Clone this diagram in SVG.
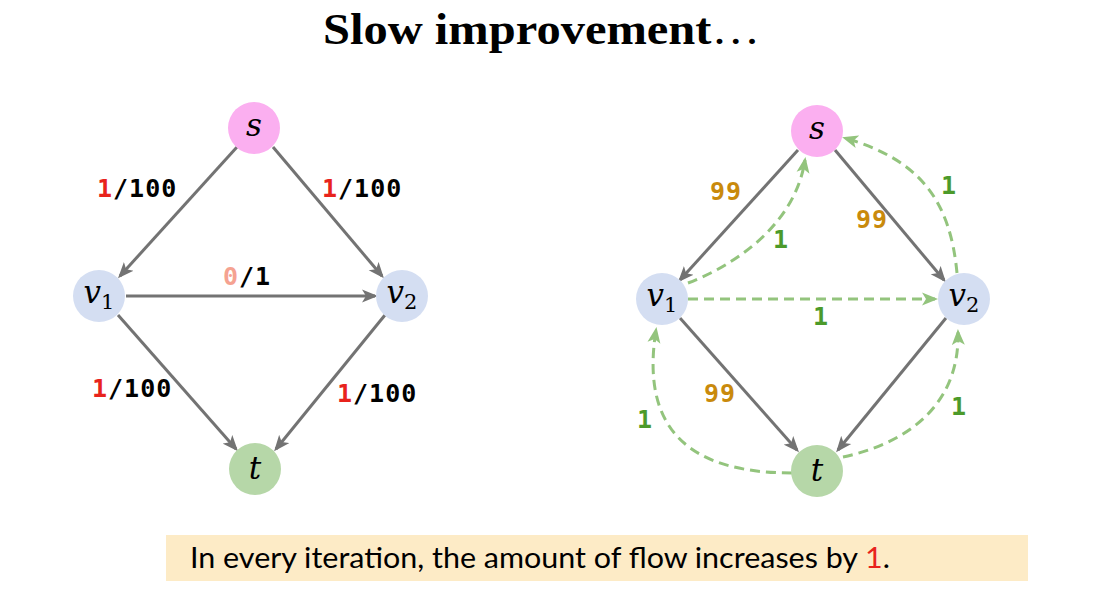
<svg xmlns="http://www.w3.org/2000/svg" width="1106" height="599" viewBox="0 0 1106 599">
<style>
.title{font-family:"Liberation Serif",serif;font-weight:bold;font-size:45px;fill:#000}
.lbl{font-family:"DejaVu Sans Mono",monospace;font-weight:bold;font-size:25px;letter-spacing:1px;fill:#000}
.red{fill:#e8231c}
.pale{fill:#f5a291}
.or{fill:#c98a0c}
.gr{fill:#4c9a2a}
.nt{font-family:"DejaVu Serif",serif;font-style:italic;font-size:31px;fill:#000}
.sub{font-style:normal;font-size:21px}
.edge{fill:none;stroke:#737373;stroke-width:3;marker-end:url(#ag)}
.res{fill:none;stroke:#93c47d;stroke-width:3;stroke-dasharray:10 6;marker-end:url(#agr)}
.ns{fill:#fbaff0}
.nv{fill:#d4def2}
.ntt{fill:#b6d7a8}
.cap{font-family:"Lato","Open Sans",sans-serif;font-size:29px;fill:#000}
</style>
<defs>
<marker id="ag" markerUnits="userSpaceOnUse" markerWidth="17" markerHeight="14" refX="13" refY="6.5" orient="auto" viewBox="0 0 17 13">
<path d="M0,0 L16,6.5 L0,13 L4,6.5 z" fill="#737373"/>
</marker>
<marker id="agr" markerUnits="userSpaceOnUse" markerWidth="17" markerHeight="14" refX="13" refY="6.5" orient="auto" viewBox="0 0 17 13">
<path d="M0,0 L16,6.5 L0,13 L4,6.5 z" fill="#93c47d"/>
</marker>
</defs>
<rect width="1106" height="599" fill="#fff"/>
<text class="title" x="323" y="44" textLength="437" lengthAdjust="spacingAndGlyphs">Slow improvement<tspan font-weight="normal">…</tspan></text>

<g id="connectors">
<line class="edge" x1="237" y1="147" x2="120" y2="276"/>
<line class="edge" x1="273" y1="147" x2="382" y2="276"/>
<line class="edge" x1="126" y1="296" x2="375" y2="296"/>
<line class="edge" x1="118" y1="315" x2="236" y2="449"/>
<line class="edge" x1="385" y1="315" x2="276" y2="449"/>

<line class="edge" x1="798" y1="150" x2="680" y2="280"/>
<line class="edge" x1="835" y1="150" x2="944" y2="280"/>
<line class="edge" x1="680" y1="318" x2="797" y2="450"/>
<line class="edge" x1="946" y1="318" x2="838" y2="450"/>

<path class="res" d="M688,283 C735,265 795,225 805,160"/>
<path class="res" d="M957,273 C950,200 920,160 845,138"/>
<path class="res" d="M688,299 L935,299"/>
<path class="res" d="M792,473 C690,473 640,430 656,330"/>
<path class="res" d="M843,457 C900,445 960,410 958,332"/>
</g>

<g id="labels">
<text class="lbl" x="97" y="197"><tspan class="red">1</tspan>/100</text>
<text class="lbl" x="322" y="197"><tspan class="red">1</tspan>/100</text>
<text class="lbl" x="223" y="285"><tspan class="pale">0</tspan>/1</text>
<text class="lbl" x="92" y="397"><tspan class="red">1</tspan>/100</text>
<text class="lbl" x="337" y="402"><tspan class="red">1</tspan>/100</text>

<text class="lbl or" x="710" y="200">99</text>
<text class="lbl or" x="856" y="228">99</text>
<text class="lbl or" x="704" y="402">99</text>
<text class="lbl gr" x="773" y="248">1</text>
<text class="lbl gr" x="941" y="194">1</text>
<text class="lbl gr" x="813" y="325">1</text>
<text class="lbl gr" x="637" y="428">1</text>
<text class="lbl gr" x="951" y="415">1</text>
</g>

<g id="L-s"><circle class="ns" cx="254" cy="128" r="26"/><text class="nt" x="254" y="136" text-anchor="middle">s</text></g>
<g id="L-v1"><circle class="nv" cx="99" cy="296" r="26"/><text class="nt" x="99" y="303" text-anchor="middle">v<tspan class="sub" dy="6">1</tspan></text></g>
<g id="L-v2"><circle class="nv" cx="402" cy="296" r="26"/><text class="nt" x="402" y="303" text-anchor="middle">v<tspan class="sub" dy="6">2</tspan></text></g>
<g id="L-t"><circle class="ntt" cx="255" cy="469" r="26"/><text class="nt" x="255" y="479" text-anchor="middle">t</text></g>

<g id="R-s"><circle class="ns" cx="817" cy="131" r="26"/><text class="nt" x="817" y="139" text-anchor="middle">s</text></g>
<g id="R-v1"><circle class="nv" cx="662" cy="299" r="26"/><text class="nt" x="662" y="306" text-anchor="middle">v<tspan class="sub" dy="6">1</tspan></text></g>
<g id="R-v2"><circle class="nv" cx="964" cy="299" r="26"/><text class="nt" x="964" y="306" text-anchor="middle">v<tspan class="sub" dy="6">2</tspan></text></g>
<g id="R-t"><circle class="ntt" cx="817" cy="471" r="26"/><text class="nt" x="817" y="481" text-anchor="middle">t</text></g>

<g id="caption">
<rect x="166" y="535" width="862" height="46" fill="#fdebc6"/>
<text class="cap" x="190" y="568" textLength="700" lengthAdjust="spacingAndGlyphs">In every iteration, the amount of flow increases by <tspan class="red">1</tspan>.</text>
</g>
</svg>
